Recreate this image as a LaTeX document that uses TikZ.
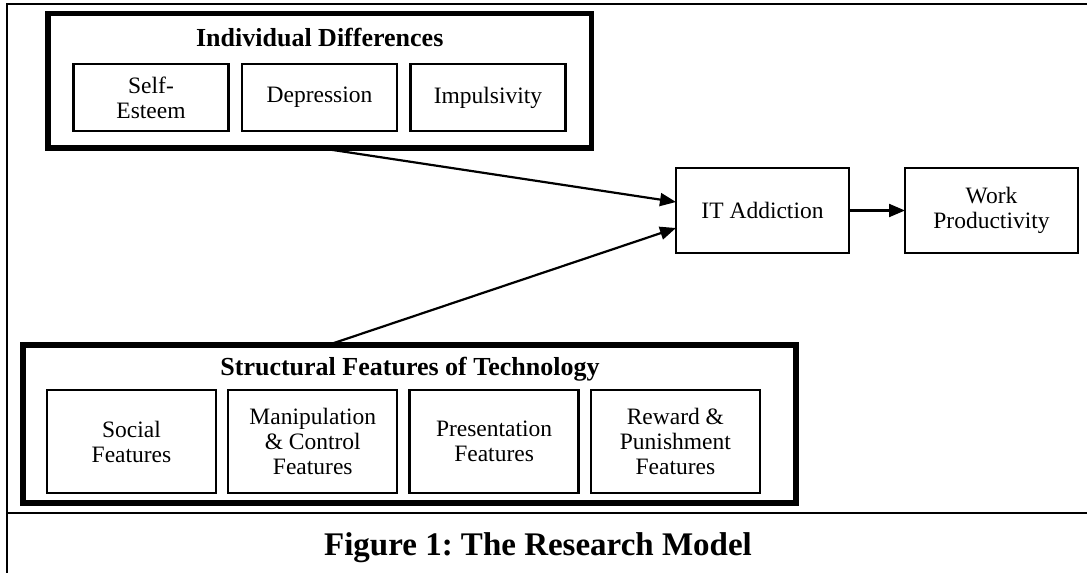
\documentclass[tikz,border=0pt]{standalone}
\usepackage{fontspec}
\setmainfont{Liberation Serif}
\usetikzlibrary{positioning, arrows.meta}
\tikzset{>={Triangle[length=16pt, width=13pt]}}
\frenchspacing

\begin{document}
\begin{tikzpicture}[x=1pt, y=-1pt, line width=2.2pt,
factor/.style={rectangle, draw=black, line width=2.3pt, outer sep=0pt, inner sep=0pt, align=center, minimum width=155pt, minimum height=67pt, font=\fontsize{23.5}{25}\selectfont},
feature/.style={factor, minimum width=169pt, minimum height=103pt},
group/.style={rectangle, draw=black, line width=5.5pt, outer sep=0pt, inner sep=0pt},
heading/.style={anchor=base, inner sep=0pt, font=\fontsize{26}{30}\selectfont\bfseries}]
    \useasboundingbox (0,0) rectangle (1087,573);

    % frame of the figure
    \coordinate (frametop) at (7,4);
    \coordinate (framebot) at (7,573);
    \coordinate (capleft) at (7,513);
    \draw (1087,4) -- (frametop) -- (framebot);
    \draw (capleft) -- (1087,513);

    % individual differences
    \node[group, minimum width=543.5pt, minimum height=134.5pt] (idg) at (319.75,80.75) {};
    \node[heading] (idtitle) at (319.75,46) {Individual Differences};
    \node[factor] (esteem) at (151,97.5) {Self-\\Esteem};
    \node[factor, right=13.5pt of esteem] (depress) {Depression};
    \node[factor, right=13.5pt of depress] (impuls) {Impulsivity};

    % structural features
    \node[group, minimum width=773pt, minimum height=158pt] (sft) at (409.5,424) {};
    \node[heading] (sfttitle) at (410,375) {Structural Features of Technology};
    \node[feature] (social) at (131.5,441.5) {Social\\Features};
    \node[feature, right=12.3pt of social] (manip) {Manipulation\\\& Control\\Features};
    \node[feature, right=12.3pt of manip] (present) {Presentation\\Features};
    \node[feature, right=12.3pt of present] (reward) {Reward \&\\Punishment\\Features};

    % outcomes
    \node[factor, minimum width=173pt, minimum height=85pt] (itad) at (762.5,210.5) {IT Addiction};
    \node[factor, minimum width=173pt, minimum height=85pt] (work) at (991.5,210.5) {Work\\Productivity};

    \draw[->] (idg.south) -- ([yshift=8.5pt]itad.west);
    \draw[->] ([xshift=-81.5pt]sft.north) -- ([yshift=-17.5pt]itad.west);
    \draw[->] (itad) -- (work);

    \node[anchor=base, inner sep=0pt, font=\fontsize{33}{38}\selectfont\bfseries] (caption) at (538,555) {Figure 1: The Research Model};
\end{tikzpicture}
\end{document}
